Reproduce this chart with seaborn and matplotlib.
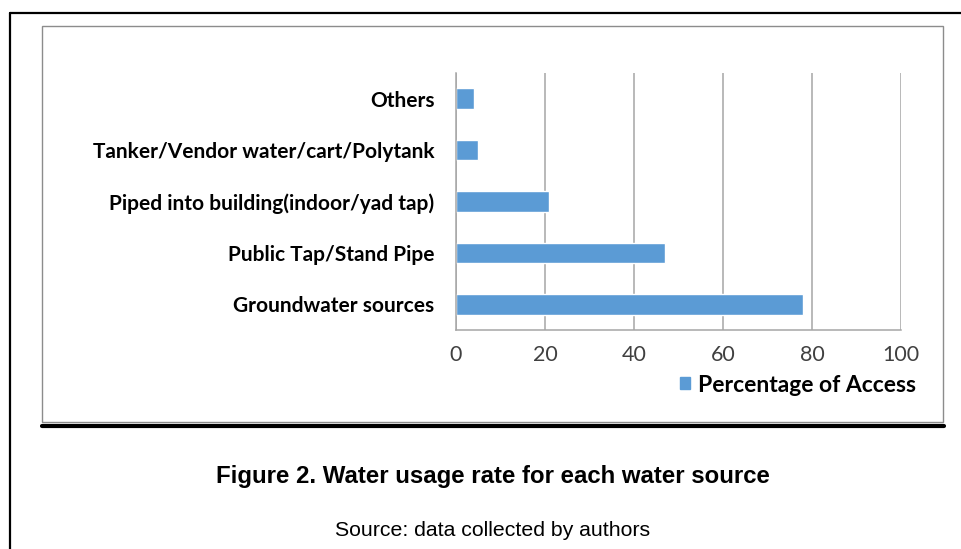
import matplotlib
matplotlib.use("Agg")
import matplotlib.pyplot as plt
from matplotlib.lines import Line2D
from matplotlib.patches import Patch, Rectangle
import pandas as pd
import seaborn as sns

# values
sources = [
    "Others",
    "Tanker/Vendor water/cart/Polytank",
    "Piped into building(indoor/yad tap)",
    "Public Tap/Stand Pipe",
    "Groundwater sources",
]
access_pct = [4, 5, 21, 47, 78]
x_ticks = [0, 20, 40, 60, 80, 100]

BAR = "#5b9bd5"
GRID = "#a6a6a6"

sns.set_style("white")
plt.rcParams["font.family"] = ["Lato", "DejaVu Sans"]
plt.rcParams["text.color"] = "black"

df = pd.DataFrame({"source": sources, "pct": access_pct})

W, H = 961, 549
fig = plt.figure(figsize=(W / 100, H / 100), dpi=100)
ax = fig.add_axes([456 / W, 1 - 330 / H, (901 - 456) / W, (330 - 73) / H])

sns.barplot(data=df, y="source", x="pct", order=sources, color=BAR,
            width=0.4, orient="h", ax=ax, saturation=1)

ax.set_xlim(0, 100)
ax.set_ylim(4.5, -0.5)
ax.set_xticks(x_ticks)
ax.set_xlabel("")
ax.set_ylabel("")
ax.xaxis.grid(True, color=GRID, lw=1.1)
ax.set_axisbelow(True)
for side in ("top", "right"):
    ax.spines[side].set_visible(False)
for side in ("left", "bottom"):
    ax.spines[side].set_color(GRID)
    ax.spines[side].set_linewidth(1.1)

# Excel-style ticks: category boundaries on y, outward ticks on x
ax.set_yticks([i - 0.5 for i in range(len(sources) + 1)], minor=True)
ax.tick_params(axis="y", which="major", length=0, pad=15.5, labelsize=15,
               labelcolor="black")
ax.tick_params(axis="y", which="minor", length=7, color=GRID, width=1.1)
ax.tick_params(axis="x", length=6, color=GRID, width=1.1, pad=5,
               labelsize=15.5, labelcolor="#404040")
for lab in ax.get_yticklabels():
    lab.set_fontweight("bold")

fig.legend(handles=[Patch(color=BAR, label="Percentage of Access")],
           loc="center right", bbox_to_anchor=(937 / W, 1 - 385 / H),
           frameon=False, handlelength=0.45, handleheight=0.45,
           handletextpad=0.35, prop={"weight": "bold", "size": 16.5})

# page frame around the figure
fig.add_artist(Line2D([10 / W, 1], [1 - 13 / H] * 2, color="black", lw=1.6))
fig.add_artist(Line2D([10 / W] * 2, [1 - 13 / H, 0], color="black", lw=1.6))
fig.add_artist(Rectangle((42 / W, 1 - 422 / H), (943 - 42) / W, (422 - 26) / H,
                         transform=fig.transFigure, fill=False,
                         edgecolor="#8c8c8c", lw=1.0))
fig.add_artist(Line2D([42 / W, 944 / W], [1 - 426 / H] * 2, color="black", lw=3))

fig.text(493 / W, 1 - 476 / H, "Figure 2. Water usage rate for each water source",
         ha="center", va="center", fontsize=17.3, fontweight="bold",
         family="Liberation Sans", color="black")
fig.text(493 / W, 1 - 530 / H, "Source: data collected by authors",
         ha="center", va="center", fontsize=15.3, family="Liberation Sans",
         color="black")

fig.savefig("out.png", dpi=100)
